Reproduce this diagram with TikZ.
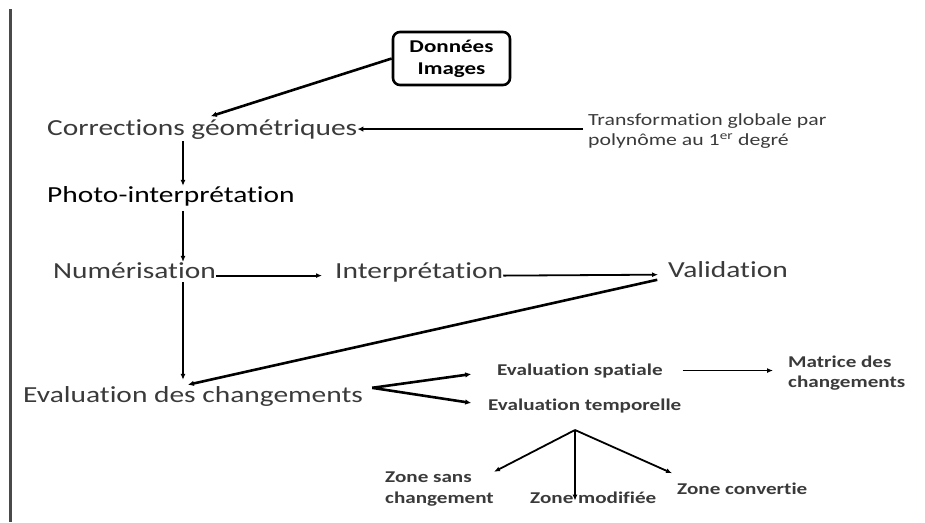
\documentclass[tikz,border=0pt]{standalone}
\usepackage{fontspec}
\setmainfont{Carlito}[FakeStretch=1.28, Ligatures={NoCommon}]
\usetikzlibrary{arrows.meta,calc}
\definecolor{labgray}{HTML}{3A3A3A}
\definecolor{bargray}{HTML}{4A4A4A}
\begin{document}
\begin{tikzpicture}[x=1pt,y=-1pt,
  big/.style={inner sep=0pt, anchor=base west, text=labgray, font=\fontsize{23}{27}\selectfont},
  small/.style={inner sep=0pt, text=labgray, font=\bfseries\fontsize{16.5}{20.5}\selectfont},
  note/.style={inner sep=0pt, anchor=west, align=left, text=labgray, font=\fontsize{17}{20}\selectfont},
  box/.style={draw, line width=2.6pt, rounded corners=7pt, minimum width=117pt, minimum height=53pt,
     align=center, inner sep=2pt, font=\bfseries\fontsize{18}{22}\selectfont},
  arr/.style={line width=1.8pt, -{Latex[length=6pt,width=5pt]}},
  thick arr/.style={line width=2.6pt, -{Latex[length=6pt,width=5.5pt]}},
 ]
\useasboundingbox (0,0) rectangle (925,522);
\draw[bargray, line width=3pt] (10.5,9) coordinate (bartop) -- (10.5,522) coordinate (barbot);

\coordinate (spine) at (183,0);

\node[box] (donnees) at (451.5,58.5) {Données\\Images};
\node[big] (corr) at (47,135) {Corrections géométriques};
\node[note] (transf) at (588,131) {Transformation globale par\\polynôme au 1\textsuperscript{er} degré};
\node[big, text=black] (photo) at (47,202) {Photo-interprétation};
\node[big] (num) at (53,278) {Numérisation};
\node[big] (interp) at (335,278) {Interprétation};
\node[big] (valid) at (668,277) {Validation};
\node[big] (evalch) at (23,402) {Evaluation des changements};
\node[small, anchor=base west] (espat) at (497,375) {Evaluation spatiale};
\node[small, anchor=west, align=left] (matrice) at (788,373) {Matrice des\\changements};
\node[small, anchor=base west] (etemp) at (488,410) {Evaluation temporelle};
\node[small, anchor=west, align=left] (zsans) at (385,489) {Zone sans\\changement};
\node[small, anchor=base west] (zmod) at (530,503) {Zone modifiée};
\node[small, anchor=base west] (zconv) at (677,494) {Zone convertie};

\coordinate (split) at ([xshift=9pt,yshift=-2pt]evalch.north east);
\coordinate (fork) at (575,430);

\draw[thick arr, shorten >=9pt] (donnees.west) -- (corr.north);
\draw[thick arr, shorten <=5pt] (transf.west |- corr.east) -- (corr.east);
\draw[arr, shorten <=2pt] (corr.south -| spine) -- (photo.north -| spine);
\draw[arr, shorten <=5pt] (photo.south -| spine) -- (num.north -| spine);
\draw[arr, shorten >=13pt] (num.mid east) -- (interp.mid west);
\draw[arr, shorten >=10pt] (interp.mid east) -- (valid.mid west);
\draw[arr, shorten <=4pt, shorten >=6pt] (num.south -| spine) -- (evalch.north -| spine);
\draw[thick arr, shorten <=11pt, shorten >=5pt] (valid.south west) -- (evalch.north -| spine);
\draw[thick arr, shorten >=26pt] (split) -- (espat.west);
\draw[thick arr, shorten >=17pt] (split) -- (etemp.west);
\draw[arr, shorten <=20pt, shorten >=15pt] (espat.east) -- (espat.east -| matrice.west);
\draw[arr] (fork) -- (zsans.north east);
\draw[arr] (fork) -- (fork |- zmod.mid);
\draw[arr] (fork) -- ([xshift=-5pt,yshift=9pt]zconv.north west);
\end{tikzpicture}
\end{document}
